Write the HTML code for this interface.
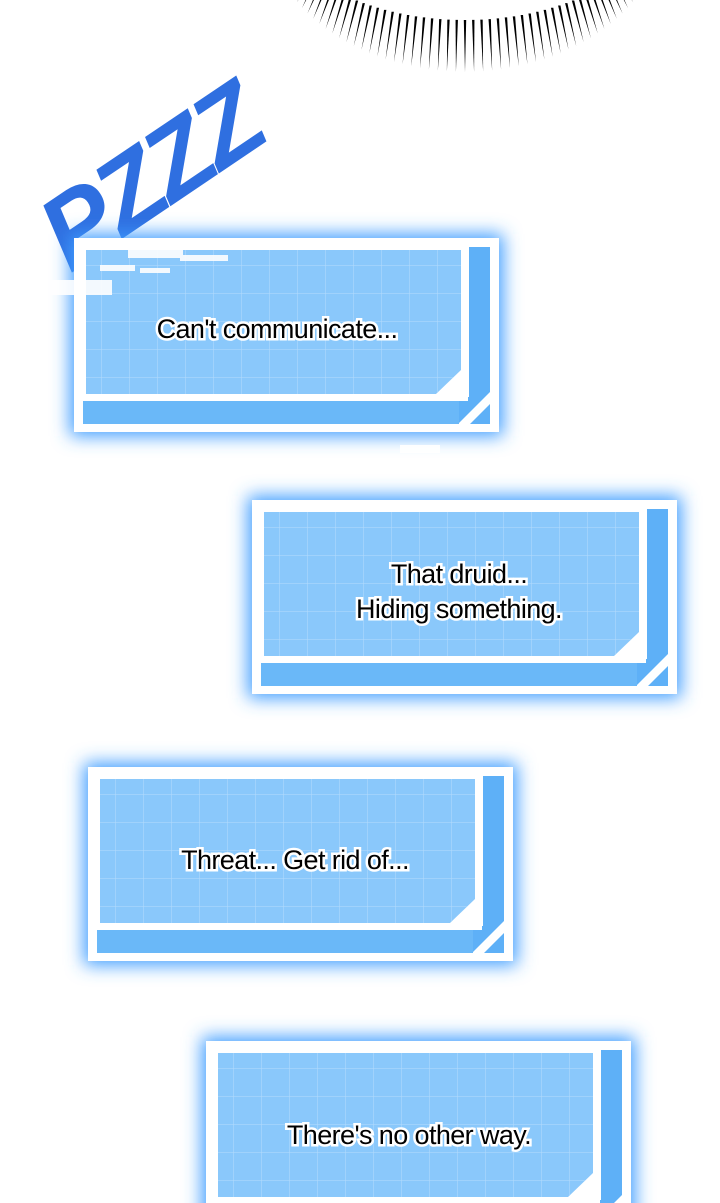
<!DOCTYPE html>
<html><head><meta charset="utf-8"><style>
html,body{margin:0;padding:0;background:#fff;}
svg{display:block}
</style></head><body>
<svg id="s" width="720" height="1203" viewBox="0 0 720 1203" xmlns="http://www.w3.org/2000/svg">
<defs>
<filter id="glow" x="-20%" y="-30%" width="140%" height="160%"><feGaussianBlur stdDeviation="9"/></filter>
<pattern id="grid" width="28" height="28" patternUnits="userSpaceOnUse"><path d="M28 0V28H0" fill="none" stroke="#b5dcfd" stroke-width="1"/></pattern>
<g id="box">
<rect x="-4" y="-4" width="433" height="202" fill="#3d9cff" filter="url(#glow)"/>
<rect x="0" y="0" width="425" height="194" fill="#fff"/>
<rect x="9" y="9" width="407" height="177" fill="#5eb0f7"/>
<rect x="9" y="9" width="380" height="150" fill="#fff"/>
<polygon points="12,12 387,12 387,132 362,156 12,156" fill="#8ac8fb"/>
<polygon points="12,12 387,12 387,132 362,156 12,156" fill="url(#grid)"/>
<rect x="389" y="9" width="6" height="150" fill="#fff"/>
<rect x="9" y="158" width="385" height="5" fill="#fff"/>
<polygon points="384,186 416,154 416,166 396,186" fill="#fff"/>
<rect x="9" y="163" width="376" height="23" fill="#6ab8f8"/>
</g>
</defs>
<g id="rays"></g>
<g transform="translate(152,180) rotate(-34)">
<text x="0" y="32" text-anchor="middle" font-family="Liberation Sans, sans-serif" font-weight="bold" font-style="italic" font-size="104" fill="#2f6fe0" stroke="#fff" stroke-width="8" paint-order="stroke" letter-spacing="-5">PZZZ</text>
</g>
<use href="#box" x="74" y="238"/>
<use href="#box" x="252" y="500"/>
<use href="#box" x="88" y="767"/>
<use href="#box" x="206" y="1041"/>
<g fill="#fff" opacity="0.9">
<rect x="50" y="280" width="62" height="15"/><rect x="128" y="250" width="55" height="8"/><rect x="180" y="255" width="48" height="6"/><rect x="100" y="265" width="35" height="6"/><rect x="140" y="268" width="30" height="5"/><rect x="325" y="245" width="60" height="4"/><rect x="400" y="445" width="40" height="8"/>
</g>
<g font-family="Liberation Sans, DejaVu Sans, sans-serif" font-size="27" text-anchor="middle" fill="#000" stroke="#fff" stroke-width="5" paint-order="stroke" letter-spacing="-0.6">
<text x="277" y="338">Can't communicate...</text>
<text x="459" y="583">That druid...</text>
<text x="459" y="618">Hiding something.</text>
<text x="295" y="869">Threat... Get rid of...</text>
<text x="409" y="1144">There's no other way.</text>
</g>
</svg>
<script>
var g=document.getElementById('rays'),h='';
var cx=465,cy=-80;
for(var a=12;a<=168;a+=2.6){var r=a*Math.PI/180;
var x1=cx+Math.cos(r)*182,y1=cy+Math.sin(r)*100,x2=cx+Math.cos(r)*200,y2=cy+Math.sin(r)*152;
h+='<polygon points="'+(x1-1.2)+','+y1+' '+(x1+1.2)+','+y1+' '+x2+','+y2+'" fill="#000"/>';}
g.innerHTML=h;
</script>
</body></html>
